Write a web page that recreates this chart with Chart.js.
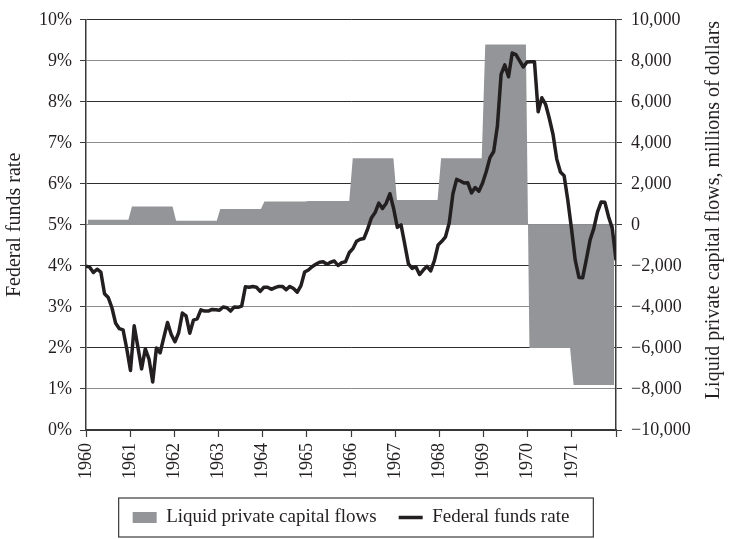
<!DOCTYPE html>
<html>
<head>
<meta charset="utf-8">
<script src="https://cdn.jsdelivr.net/npm/chart.js@4.4.1/dist/chart.umd.min.js"></script>
<style>
  html, body { margin: 0; padding: 0; background: #fff; }
  #chart { display: block; }
</style>
</head>
<body>
<canvas id="chart" width="733" height="539"></canvas>
<script>
// annual liquid private capital flows, millions of dollars (right axis)
const years = [1960, 1961, 1962, 1963, 1964, 1965, 1966, 1967, 1968, 1969, 1970, 1971];
const capitalFlows = [250, 900, 200, 770, 1140, 1170, 3250, 1220, 3250, 8800, -6000, -7800];

// monthly effective federal funds rate, Jan 1960 - Dec 1971 (left axis)
const fundsRate = [
    3.99, 3.97, 3.84, 3.92, 3.85, 3.32, 3.23, 2.98, 2.60, 2.47, 2.44, 1.98, // 1960
    1.45, 2.54, 2.02, 1.49, 1.98, 1.73, 1.17, 2.00, 1.88, 2.26, 2.62, 2.33, // 1961
    2.15, 2.37, 2.85, 2.78, 2.36, 2.68, 2.71, 2.93, 2.90, 2.90, 2.94, 2.93, // 1962
    2.92, 3.00, 2.98, 2.90, 3.00, 2.99, 3.02, 3.49, 3.48, 3.50, 3.48, 3.38, // 1963
    3.48, 3.48, 3.43, 3.47, 3.50, 3.50, 3.42, 3.50, 3.45, 3.36, 3.52, 3.85, // 1964
    3.90, 3.98, 4.04, 4.09, 4.10, 4.04, 4.09, 4.12, 4.01, 4.08, 4.10, 4.32, // 1965
    4.42, 4.60, 4.65, 4.67, 4.90, 5.17, 5.30, 5.53, 5.40, 5.53, 5.76, 5.40, // 1966
    4.94, 5.00, 4.53, 4.05, 3.94, 3.98, 3.79, 3.90, 3.99, 3.88, 4.13, 4.51, // 1967
    4.60, 4.71, 5.05, 5.76, 6.11, 6.07, 6.02, 6.03, 5.78, 5.91, 5.82, 6.02, // 1968
    6.30, 6.64, 6.79, 7.41, 8.67, 8.90, 8.61, 9.19, 9.15, 9.00, 8.85, 8.97, // 1969
    8.98, 8.98, 7.76, 8.10, 7.94, 7.60, 7.21, 6.61, 6.29, 6.20, 5.60, 4.90, // 1970
    4.14, 3.72, 3.71, 4.16, 4.63, 4.91, 5.31, 5.56, 5.55, 5.20, 4.91, 4.14  // 1971
];

const rateTicks = [0, 1, 2, 3, 4, 5, 6, 7, 8, 9, 10];
const flowTicks = [-10000, -8000, -6000, -4000, -2000, 0, 2000, 4000, 6000, 8000, 10000];

const ink = '#231f20';
const flowGrey = '#939598';
const serif = 'Liberation Serif';

// each annual value held flat across its year
const flowPoints = [];
years.forEach((yr, k) => {
    flowPoints.push({ x: yr + 0.04, y: capitalFlows[k] });
    flowPoints.push({ x: yr + 0.96, y: capitalFlows[k] });
});
const ratePoints = fundsRate.map((v, i) => ({ x: i, y: v }));

function fmtFlow(v) {
    const s = Math.abs(v).toLocaleString('en-US');
    return v < 0 ? '\u2212' + s : s;
}

// box round the legend, and the right axis title read bottom to top
const extras = {
    id: 'extras',
    afterDraw(chart) {
        const ctx = chart.ctx;
        const boxes = chart.legend.legendHitBoxes;
        const first = boxes[0], last = boxes[boxes.length - 1];
        const cy = first.top + 9.5;
        const left = first.left - 14;
        const right = last.left + last.width + 24;
        ctx.save();
        ctx.strokeStyle = '#3a3a3a';
        ctx.lineWidth = 1.2;
        ctx.strokeRect(left, cy - 19.5, right - left, 39);

        ctx.translate(chart.width - 19, 210);
        ctx.rotate(-Math.PI / 2);
        ctx.fillStyle = ink;
        ctx.font = '20px "' + serif + '"';
        ctx.textAlign = 'center';
        ctx.textBaseline = 'middle';
        ctx.fillText('Liquid private capital flows, millions of dollars', 0, 0);
        ctx.restore();
    }
};

const ctx = document.getElementById('chart').getContext('2d');
new Chart(ctx, {
    type: 'line',
    data: {
        datasets: [{
            label: 'Liquid private capital flows',
            data: flowPoints,
            xAxisID: 'x',
            yAxisID: 'y2',
            fill: 'origin',
            backgroundColor: flowGrey,
            borderColor: flowGrey,
            borderWidth: 0,
            pointRadius: 0,
            pointStyle: 'rect',
            pointBackgroundColor: flowGrey,
            pointBorderColor: flowGrey,
            pointBorderWidth: 0,
            tension: 0
        }, {
            label: 'Federal funds rate',
            data: ratePoints,
            xAxisID: 'xm',
            yAxisID: 'y',
            fill: false,
            borderColor: ink,
            backgroundColor: ink,
            borderWidth: 3.5,
            borderJoinStyle: 'round',
            pointRadius: 0,
            pointStyle: 'line',
            pointBackgroundColor: ink,
            pointBorderColor: ink,
            pointBorderWidth: 3.5,
            tension: 0
        }]
    },
    options: {
        responsive: false,
        animation: false,
        devicePixelRatio: 1,
        layout: { padding: { top: 15, left: 0, right: 0, bottom: 2 } },
        plugins: {
            filler: { drawTime: 'beforeDatasetsDraw' },
            tooltip: { enabled: false },
            legend: {
                position: 'bottom',
                fullSize: false,
                labels: {
                    usePointStyle: true,
                    pointStyleWidth: 24,
                    boxHeight: 11,
                    padding: 22,
                    color: ink,
                    font: { family: serif, size: 19 }
                }
            }
        },
        scales: {
            x: {
                type: 'linear',
                position: 'bottom',
                min: years[0],
                max: years[years.length - 1] + 1,
                afterFit: s => { s.height = 56; },
                afterBuildTicks: s => {
                    s.ticks = years.concat([years[years.length - 1] + 1]).map(v => ({ value: v }));
                },
                ticks: {
                    autoSkip: false,
                    minRotation: 90,
                    maxRotation: 90,
                    padding: 6,
                    color: ink,
                    font: { family: serif, size: 18 },
                    callback: v => (years.includes(v) ? String(v) : '')
                },
                grid: { drawOnChartArea: false, tickLength: 7, tickColor: '#3a3a3a', tickWidth: 1.2 },
                border: { color: '#3a3a3a', width: 1.5 }
            },
            xm: {
                type: 'linear',
                display: false,
                min: 0,
                max: fundsRate.length - 1
            },
            y: {
                position: 'left',
                min: 0,
                max: 10,
                afterFit: s => { s.width = 86; },
                afterBuildTicks: s => { s.ticks = rateTicks.map(v => ({ value: v })); },
                ticks: {
                    padding: 8,
                    color: ink,
                    font: { family: serif, size: 18 },
                    callback: v => v + '%'
                },
                grid: {
                    color: c => (c.tick && c.tick.value % 2 === 1 ? '#8c8c8c' : '#2e2e2e'),
                    lineWidth: 1,
                    tickLength: 6,
                    tickColor: '#3a3a3a'
                },
                border: { color: '#3a3a3a', width: 1.5 },
                title: {
                    display: true,
                    text: 'Federal funds rate',
                    color: ink,
                    font: { family: serif, size: 20 },
                    padding: { top: 3, bottom: 2 }
                }
            },
            y2: {
                position: 'right',
                min: flowTicks[0],
                max: flowTicks[flowTicks.length - 1],
                afterFit: s => { s.width = 117; },
                afterBuildTicks: s => { s.ticks = flowTicks.map(v => ({ value: v })); },
                ticks: {
                    padding: 9,
                    color: ink,
                    font: { family: serif, size: 18 },
                    callback: v => fmtFlow(v)
                },
                grid: { drawOnChartArea: false, tickLength: 6, tickColor: '#3a3a3a' },
                border: { color: '#3a3a3a', width: 1.5 }
            }
        }
    },
    plugins: [extras]
});
</script>
</body>
</html>
